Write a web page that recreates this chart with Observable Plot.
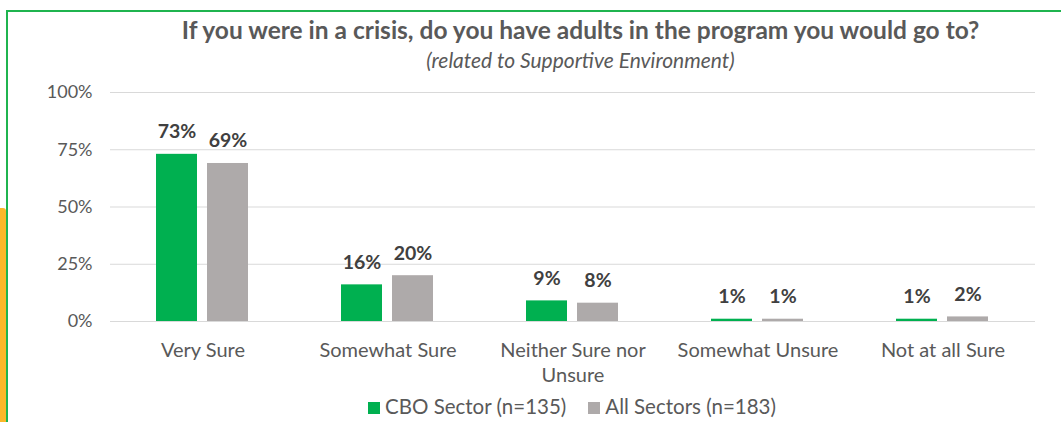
<!DOCTYPE html>
<html>
<head>
<meta charset="utf-8">
<script src="https://cdn.jsdelivr.net/npm/d3@7"></script>
<script src="https://cdn.jsdelivr.net/npm/@observablehq/plot@0.6"></script>
<style>
  html, body { margin: 0; padding: 0; background: #fff; width: 1061px; height: 422px; overflow: hidden; font-family: Lato, "Open Sans", sans-serif; }
  #frame { position: absolute; left: 6px; top: 10px; width: 1100px; height: 500px; border-top: 2px solid #1fb44f; border-left: 2px solid #1fb44f; box-sizing: border-box; }
  #strip { position: absolute; left: 0; top: 208px; width: 6px; height: 220px; background: #fbb829; border-top-right-radius: 3px; }
  #title { position: absolute; left: 0; width: 1161px; top: 15px; line-height: 30px; text-align: center; font-weight: bold; font-size: 24.5px; color: #595959; white-space: nowrap; }
  #subtitle { position: absolute; left: 0; width: 1161px; top: 48px; line-height: 24px; text-align: center; font-style: italic; font-size: 21px; color: #595959; white-space: nowrap; }
  #chart { position: absolute; left: 0; top: 80px; }
  #legend { position: absolute; left: 0; width: 1144px; top: 394px; line-height: 24px; text-align: center; font-size: 20.5px; color: #595959; white-space: nowrap; }
  #legend span.item { margin: 0 11px; }
  #legend span.sw { display: inline-block; width: 12px; height: 12px; margin-right: 5px; }
</style>
</head>
<body>
<div id="strip"></div>
<div id="frame"></div>
<div id="title">If you were in a crisis, do you have adults in the program you would go to?</div>
<div id="subtitle">(related to Supportive Environment)</div>
<div id="chart"></div>
<div id="legend"></div>
<script>
const categories = ["Very Sure", "Somewhat Sure", "Neither Sure nor Unsure", "Somewhat Unsure", "Not at all Sure"];
const categoryLabels = ["Very Sure", "Somewhat Sure", "Neither Sure nor\nUnsure", "Somewhat Unsure", "Not at all Sure"];
const seriesNames = ["CBO Sector (n=135)", "All Sectors (n=183)"];
const seriesColors = ["#00b050", "#aeaaaa"];
const cboValues = [73, 16, 9, 1, 1];
const allValues = [69, 20, 8, 1, 2];
const yTicks = [0, 25, 50, 75, 100];

const data = [];
categories.forEach((c, i) => {
  data.push({category: c, series: seriesNames[0], value: cboValues[i]});
  data.push({category: c, series: seriesNames[1], value: allValues[i]});
});
const labelOf = new Map(categories.map((c, i) => [c, categoryLabels[i]]));

const chart = Plot.plot({
  width: 1061,
  height: 311,
  marginLeft: 110,
  marginRight: 26,
  marginTop: 12,
  marginBottom: 70,
  style: {fontFamily: "Lato, 'Open Sans', sans-serif", fontSize: "18px", color: "#595959", background: "transparent"},
  fx: {domain: categories, padding: 0, label: null},
  x: {domain: seriesNames, axis: null, paddingInner: 0.19, paddingOuter: 0.875},
  y: {domain: [0, 100], label: null},
  color: {domain: seriesNames, range: seriesColors},
  marks: [
    Plot.gridY(yTicks, {stroke: "#d9d9d9", strokeOpacity: 1, strokeWidth: 1}),
    Plot.axisY(yTicks, {tickSize: 0, tickPadding: 18, tickFormat: d => d + "%", fontSize: 18, label: null}),
    Plot.axisFx({anchor: "bottom", tickSize: 0, tickPadding: 18, fontSize: 20, lineHeight: 1.25, label: null, tickFormat: d => labelOf.get(d)}),
    Plot.barY(data, {fx: "category", x: "series", y: "value", fill: "series", inset: 0}),
    Plot.text(data, {fx: "category", x: "series", y: "value", text: d => d.value + "%", lineAnchor: "bottom", dy: -16, fontWeight: "bold", fontSize: 19.5, fill: "#404040"})
  ]
});
document.getElementById("chart").appendChild(chart);

const legend = document.getElementById("legend");
seriesNames.forEach((s, i) => {
  const item = document.createElement("span");
  item.className = "item";
  const sw = document.createElement("span");
  sw.className = "sw";
  sw.style.background = seriesColors[i];
  item.appendChild(sw);
  item.appendChild(document.createTextNode(s));
  legend.appendChild(item);
});
</script>
</body>
</html>
